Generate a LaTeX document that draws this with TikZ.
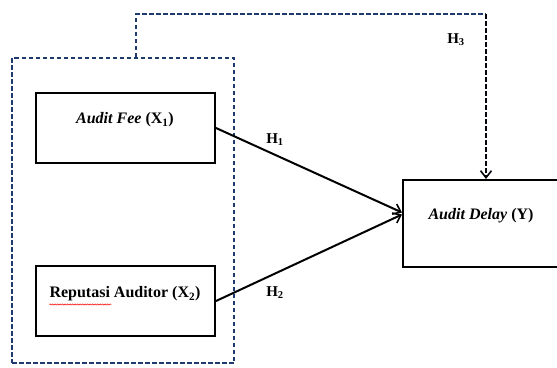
\documentclass[tikz,border=0pt]{standalone}
\usepackage{fontspec}
\setmainfont{Liberation Serif}
\usetikzlibrary{arrows.meta,decorations.pathmorphing}
\definecolor{navy}{HTML}{1F3A6E}
\begin{document}
\begin{tikzpicture}[x=1pt,y=-1pt,
  box/.style={draw=black,line width=2pt,fill=white,inner sep=0pt},
  grp/.style={draw=navy,line width=2pt,dash pattern=on 4.5pt off 2.5pt},
  tip/.style={-{Straight Barb[length=7pt,width=11pt,line width=1.6pt]}},
  conn/.style={draw=black,line width=2pt,tip},
  hlab/.style={font=\bfseries\fontsize{15}{17}\selectfont,inner sep=0pt},
  txt/.style={font=\bfseries\fontsize{16}{18}\selectfont,inner sep=0pt}]
\useasboundingbox (0,0) rectangle (557,367);
% group box
\node[grp,minimum width=222pt,minimum height=305pt,anchor=north west] (G) at (11,57) {};
% boxes
\node[box,minimum width=179pt,minimum height=70pt,anchor=north west] (X1) at (35,92) {};
\node[txt] (t1) at (125,120) {\textit{Audit Fee} (X\textsubscript{1})};
\node[box,minimum width=179pt,minimum height=70pt,anchor=north west] (X2) at (35,265) {};
\node[txt] (t2) at (125,294) {Reputasi Auditor (X\textsubscript{2})};
\node[box,minimum width=158pt,minimum height=87pt,anchor=north west] (Y) at (402,179) {};
\node[txt] (t3) at (481,216) {\textit{Audit Delay} (Y)};
% spell-check underline
\draw[red,line width=0.5pt,decorate,decoration={snake,amplitude=0.6pt,segment length=2.5pt}]
  ([xshift=0pt,yshift=-3pt]t2.south west) -- ++(62,0);
% connectors
\draw[conn] (X1.east) -- ([yshift=11pt]Y.west);
\draw[conn] (X2.east) -- ([yshift=9pt]Y.west);
\coordinate (c1) at (136,14);
\coordinate (c2) at (486,14);
\draw[grp] (G.north -| c1) -- (c1) -- (c2);
\draw[grp,draw=black!90!navy,tip] (c2) -- (Y.north -| c2);
% labels
\node[hlab] (h1) at (275,140) {H\textsubscript{1}};
\node[hlab] (h2) at (275,293) {H\textsubscript{2}};
\node[hlab] (h3) at (456,40) {H\textsubscript{3}};
\end{tikzpicture}
\end{document}
